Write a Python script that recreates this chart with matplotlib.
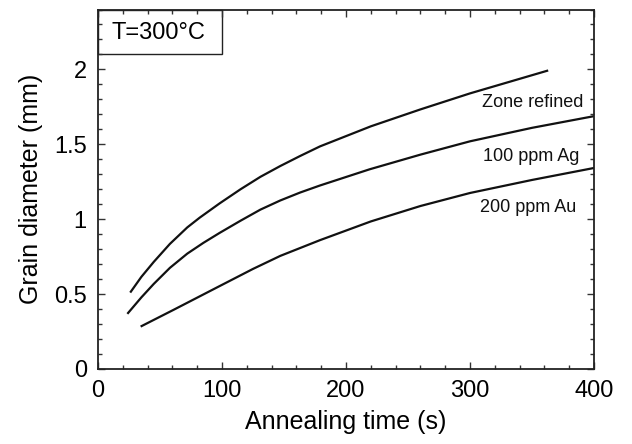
import matplotlib
matplotlib.use("Agg")
import matplotlib.pyplot as plt
from matplotlib.patches import Rectangle
from matplotlib.ticker import MultipleLocator

plt.rcParams['font.family'] = ['Liberation Sans', 'DejaVu Sans']

zone_x = [26, 35, 45, 58, 72, 82, 98, 115, 131, 147, 163, 179, 220, 260, 300, 363]
zone_y = [0.51, 0.615, 0.715, 0.835, 0.945, 1.01, 1.105, 1.20, 1.283, 1.355, 1.422, 1.486, 1.62, 1.733, 1.84, 1.993]

ag_x = [23.7, 35, 45, 58, 72, 85, 98, 115, 131, 147, 163, 179, 219, 260, 300, 350, 400]
ag_y = [0.368, 0.478, 0.568, 0.675, 0.77, 0.842, 0.908, 0.99, 1.064, 1.125, 1.178, 1.225, 1.333, 1.431, 1.52, 1.61, 1.688]

au_x = [34.4, 61, 98, 125, 147, 179, 220, 260, 300, 350, 400]
au_y = [0.283, 0.395, 0.553, 0.668, 0.755, 0.86, 0.985, 1.088, 1.175, 1.262, 1.342]

labels = ["Zone refined", "100 ppm Ag", "200 ppm Au"]
label_pos = [(391, 1.777), (388, 1.42), (386, 1.075)]

fig = plt.figure(figsize=(6.32, 4.44), dpi=100)
ax = fig.add_axes([0.155, 0.169, 0.785, 0.8096])

for xs, ys in [(zone_x, zone_y), (ag_x, ag_y), (au_x, au_y)]:
    ax.plot(xs, ys, color='#111111', lw=1.6, solid_capstyle='butt', solid_joinstyle='round')

for lab, (lx, ly) in zip(labels, label_pos):
    ax.text(lx, ly, lab, ha='right', va='center', fontsize=13, color='#111111')

ax.set_xlim(0, 400)
ax.set_ylim(0, 2.4)
ax.xaxis.set_major_locator(MultipleLocator(100))
ax.xaxis.set_minor_locator(MultipleLocator(20))
ax.yaxis.set_major_locator(MultipleLocator(0.5))
ax.yaxis.set_minor_locator(MultipleLocator(0.1))
ax.set_yticks([0, 0.5, 1, 1.5, 2])
ax.set_yticklabels(['0', '0.5', '1', '1.5', '2'])
ax.tick_params(which='both', direction='in', top=True, right=True, labelsize=17, width=1.0, color='#333333')
ax.tick_params(which='major', length=5, pad=8)
ax.tick_params(which='minor', length=3)
for s in ax.spines.values():
    s.set_linewidth(1.3)
    s.set_color('#222222')

ax.set_xlabel('Annealing time (s)', fontsize=18, labelpad=6)
ax.set_ylabel('Grain diameter (mm)', fontsize=18, labelpad=8)

ax.add_patch(Rectangle((0, 0.876), 0.25, 0.124, transform=ax.transAxes, fill=False,
                       lw=1.0, edgecolor='#222222', clip_on=False))
ax.text(0.121, 0.934, 'T=300°C', transform=ax.transAxes, ha='center', va='center', fontsize=17)

fig.savefig('out.png', dpi=100)
